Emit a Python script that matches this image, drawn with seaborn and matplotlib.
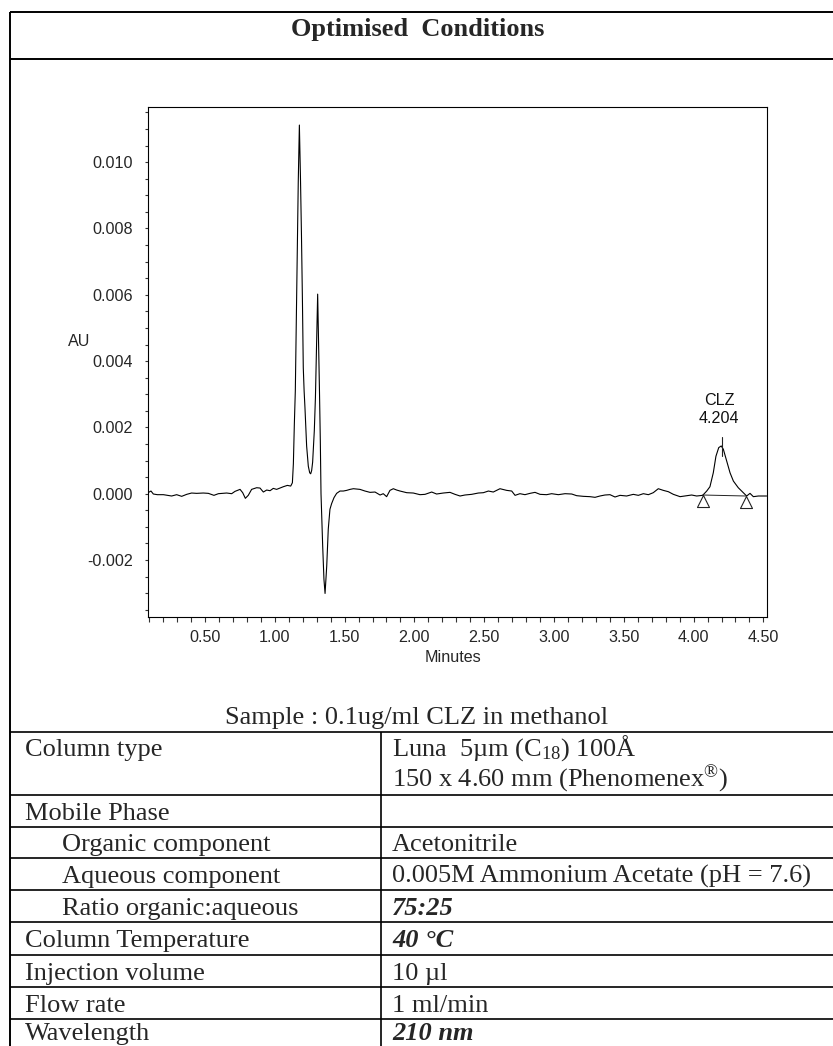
import numpy as np
import pandas as pd
import matplotlib
matplotlib.use("Agg")
import matplotlib.pyplot as plt
from matplotlib.lines import Line2D
from matplotlib.path import Path
from matplotlib.ticker import FixedLocator, MultipleLocator, FuncFormatter
import seaborn as sns

# ---------------- data ----------------
time_min = [
    0.092, 0.101, 0.113, 0.130, 0.159, 0.202, 0.230, 0.261, 0.297, 0.333,
    0.369, 0.404, 0.440, 0.488, 0.524, 0.564, 0.596, 0.655, 0.691, 0.715,
    0.751, 0.770, 0.789, 0.810, 0.834, 0.870, 0.894, 0.918, 0.942, 0.966,
    0.989, 1.013, 1.037, 1.061, 1.090, 1.114,
    1.126, 1.133, 1.140, 1.147, 1.154, 1.161, 1.168, 1.176, 1.184, 1.191,
    1.198, 1.204, 1.210, 1.216, 1.228, 1.240, 1.250, 1.257, 1.264, 1.271,
    1.283, 1.291, 1.299, 1.307, 1.314, 1.320, 1.326, 1.331, 1.343, 1.352,
    1.360, 1.372, 1.383, 1.395, 1.407, 1.424, 1.443,
    1.467, 1.491, 1.515, 1.539, 1.563, 1.610, 1.646, 1.682, 1.718, 1.754,
    1.777, 1.801, 1.825, 1.849, 1.873, 1.897, 1.945, 1.992, 2.040, 2.076,
    2.124, 2.159, 2.207, 2.255, 2.291, 2.327, 2.362, 2.410, 2.458, 2.494,
    2.530, 2.565, 2.613, 2.661, 2.697, 2.721, 2.756, 2.792, 2.828, 2.864,
    2.900, 2.947, 2.983, 3.031, 3.079, 3.127, 3.162, 3.210, 3.258, 3.294,
    3.329, 3.365, 3.401, 3.437, 3.473, 3.520, 3.568, 3.604, 3.640, 3.676,
    3.711, 3.747, 3.783, 3.819, 3.855, 3.903, 3.950, 3.986, 4.022, 4.065,
    4.094, 4.117, 4.141, 4.160, 4.180, 4.198, 4.213, 4.237, 4.261, 4.285,
    4.320, 4.356, 4.380, 4.404, 4.428, 4.464, 4.523,
]
absorbance_au = [
    0.00003, 0.00005, 0.00008, -0.00001, -0.00003, -0.00003, -0.00005, -0.00007, -0.00003, -0.00008,
    -0.00002, 0.00002, 0.00001, 0.00002, 0.00001, -0.00005, 0.00000, 0.00002, 0.00000, 0.00007,
    0.00013, 0.00003, -0.00014, -0.00005, 0.00013, 0.00018, 0.00017, 0.00005, 0.00011, 0.00009,
    0.00016, 0.00013, 0.00017, 0.00021, 0.00025, 0.00023,
    0.00033, 0.00090, 0.00210, 0.00310, 0.00520, 0.00750, 0.00940, 0.01112, 0.00950, 0.00780,
    0.00580, 0.00380, 0.00310, 0.00260, 0.00144, 0.00083, 0.00063, 0.00060, 0.00070, 0.00095,
    0.00190, 0.00290, 0.00450, 0.00602, 0.00450, 0.00310, 0.00160, 0.00000, -0.00158, -0.00258,
    -0.00301, -0.00218, -0.00107, -0.00047, -0.00030, -0.00012, 0.00001,
    0.00008, 0.00008, 0.00010, 0.00013, 0.00015, 0.00013, 0.00008, 0.00004, 0.00005, -0.00004,
    0.00000, -0.00009, 0.00010, 0.00015, 0.00011, 0.00008, 0.00003, 0.00002, -0.00003, -0.00002,
    0.00005, -0.00001, 0.00002, 0.00004, -0.00002, -0.00007, -0.00004, -0.00002, 0.00002, 0.00003,
    0.00008, 0.00005, 0.00015, 0.00010, 0.00008, -0.00005, 0.00000, -0.00003, 0.00001, 0.00004,
    -0.00002, -0.00003, 0.00000, -0.00003, 0.00000, -0.00001, -0.00006, -0.00008, -0.00009, -0.00011,
    -0.00007, -0.00004, -0.00003, -0.00010, -0.00005, -0.00007, -0.00002, -0.00005, 0.00000, -0.00003,
    0.00003, 0.00015, 0.00010, 0.00006, -0.00002, -0.00009, -0.00006, -0.00004, -0.00007, -0.00005,
    0.00008, 0.00021, 0.00063, 0.00113, 0.00139, 0.00144, 0.00134, 0.00098, 0.00063, 0.00038,
    0.00018, 0.00003, -0.00007, 0.00001, -0.00009, -0.00007, -0.00007,
]

peak_name = "CLZ"
peak_rt = 4.204
peak_mark_au = [0.00115, 0.00170]
integration_rt = [4.065, 4.375]
integration_au = [-0.00004, -0.00007]

x_ticks = [0.50, 1.00, 1.50, 2.00, 2.50, 3.00, 3.50, 4.00, 4.50]
y_ticks = [-0.002, 0.000, 0.002, 0.004, 0.006, 0.008, 0.010]
x_limits = [0.0917, 4.5236]
y_limits = [-0.00372, 0.01168]

title_text = "Optimised  Conditions"
sample_text = "Sample : 0.1ug/ml CLZ in methanol"
param_names = ["Column type", "Mobile Phase", "Organic component", "Aqueous component",
               "Ratio organic:aqueous", "Column Temperature", "Injection volume",
               "Flow rate", "Wavelength"]
param_indent = [False, False, True, True, True, False, False, False, False]
param_values = [["Luna  5µm (C$_{\\mathrm{18}}$) 100Å",
                 "150 x 4.60 mm (Phenomenex$^{\\mathrm{®}}$)"],
                [""], ["Acetonitrile"], ["0.005M Ammonium Acetate (pH = 7.6)"],
                ["75:25"], ["40 °C"], ["10 µl"], ["1 ml/min"], ["210 nm"]]
param_emph = [False, False, False, False, True, True, False, False, True]

# ---------------- style ----------------
sns.set_style("ticks")
plt.rcParams["font.family"] = ["Liberation Sans", "DejaVu Sans"]
plt.rcParams["mathtext.fontset"] = "custom"
plt.rcParams["mathtext.rm"] = "Liberation Serif"
plt.rcParams["mathtext.it"] = "Liberation Serif:italic"
plt.rcParams["mathtext.bf"] = "Liberation Serif:bold"

W, H = 833, 1046
fig = plt.figure(figsize=(W / 100, H / 100), dpi=100)
fig.patch.set_facecolor("white")


def fx(x):
    return x / W


def fy(y):
    return 1 - y / H


# ---------------- chromatogram ----------------
ax_l, ax_r, ax_t, ax_b = 148, 766.7, 106.5, 617
ax = fig.add_axes([fx(ax_l), fy(ax_b), (ax_r - ax_l) / W, (ax_b - ax_t) / H])
df = pd.DataFrame({"Minutes": time_min, "AU": absorbance_au})
sns.lineplot(data=df, x="Minutes", y="AU", ax=ax, color="black", lw=0.8,
             estimator=None, sort=False)

# integration baseline, peak apex mark, start/end triangles
ax.plot(integration_rt, integration_au, color="#222222", lw=0.7)
ax.plot([peak_rt, peak_rt], peak_mark_au, color="#222222", lw=0.8)
tri = Path([(0, 0), (-0.5, -1), (0.5, -1), (0, 0)],
           [Path.MOVETO, Path.LINETO, Path.LINETO, Path.CLOSEPOLY])
ax.plot(integration_rt, integration_au, linestyle="none", marker=tri, ms=17.3,
        mfc="none", mec="#222222", mew=0.8)
ax.annotate(f"{peak_name}\n{peak_rt:.3f}", xy=(peak_rt, peak_mark_au[1]),
            xytext=(-2, 8.3), textcoords="offset points", ha="center", va="bottom",
            fontsize=11.6, color="#111111", linespacing=1.25)

ax.set_xlim(*x_limits)
ax.set_ylim(*y_limits)
ax.xaxis.set_major_locator(FixedLocator(x_ticks))
ax.xaxis.set_minor_locator(MultipleLocator(0.1))
ax.yaxis.set_major_locator(FixedLocator(y_ticks))
ax.yaxis.set_minor_locator(MultipleLocator(0.0005))
ax.xaxis.set_major_formatter(FuncFormatter(lambda v, p: f"{v:.2f}"))
ax.yaxis.set_major_formatter(FuncFormatter(lambda v, p: f"{v:.3f}"))
ax.tick_params(axis="x", which="both", direction="out", length=3.8, width=0.8,
               color="#333333", labelsize=11.6, pad=5.2, top=False)
ax.tick_params(axis="y", which="both", direction="out", length=2.4, width=0.8,
               color="#333333", labelsize=11.6, pad=8.4, right=False)
for s in ax.spines.values():
    s.set_color("black")
    s.set_linewidth(0.8)
    s.set_visible(True)

ax.set_xlabel("Minutes", fontsize=11.6, va="center")
ax.xaxis.set_label_coords(0.493, -0.0784)
ax.set_ylabel("AU", fontsize=11.6, rotation=0, ha="left", va="center")
ax.yaxis.set_label_coords(-0.1288, 0.5387)

# ---------------- frame and table ----------------
serif = ["Liberation Serif", "DejaVu Serif"]
fs = 19.0
border_lw = 1.4
inner_lw = 1.2
right_edge = 840


def hline(y, x0=10, x1=right_edge, lw=inner_lw):
    fig.add_artist(Line2D([fx(x0), fx(x1)], [fy(y), fy(y)], color="black", lw=lw,
                          solid_capstyle="butt"))


def vline(x, y0, y1=H + 10, lw=inner_lw):
    fig.add_artist(Line2D([fx(x), fx(x)], [fy(y0), fy(y1)], color="black", lw=lw,
                          solid_capstyle="butt"))


vline(10, 12, lw=border_lw)
hline(12, lw=border_lw)
hline(58.7, lw=border_lw)
hline(732)
row_lines = [795, 827, 858, 890, 922, 955, 987, 1019]
for y in row_lines:
    hline(y)
vline(381, 732)

fig.text(fx(418), fy(36), title_text, fontsize=fs, family=serif, weight="bold",
         ha="center", va="baseline")
fig.text(fx(417), fy(724), sample_text, fontsize=fs, family=serif,
         ha="center", va="baseline")

row_baselines = [756, 820, 851, 883, 915, 947, 980, 1012, 1040]
for i, name in enumerate(param_names):
    base = row_baselines[i]
    lines = param_values[i]
    fig.text(fx(62 if param_indent[i] else 25), fy(base), name, fontsize=fs,
             family=serif, ha="left", va="baseline")
    for j, val in enumerate(lines):
        if not val:
            continue
        fig.text(fx(392), fy(base + 31 * j), val, fontsize=fs, family=serif,
                 ha="left", va="baseline",
                 weight="bold" if param_emph[i] else "normal",
                 style="italic" if param_emph[i] else "normal")

fig.savefig("out.png", dpi=100, facecolor="white")
